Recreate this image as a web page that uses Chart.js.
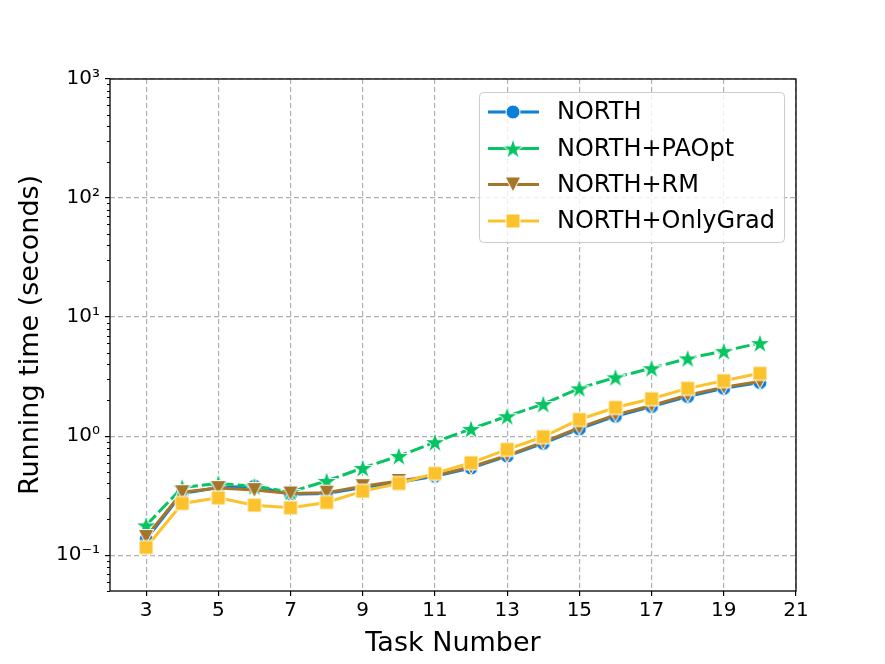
<!DOCTYPE html>
<html><head><meta charset="utf-8">
<script src="https://cdn.jsdelivr.net/npm/chart.js@4.4.1/dist/chart.umd.min.js"></script>
<style>html,body{margin:0;padding:0;background:#fff;}canvas{display:block;}</style>
</head><body>
<canvas id="c" width="885" height="664"></canvas>
<script>
// ---- data ----
const taskNumbers = [3,4,5,6,7,8,9,10,11,12,13,14,15,16,17,18,19,20];
const northTimes    = [0.136,0.33,0.37,0.38,0.325,0.33,0.37,0.41,0.46,0.54,0.68,0.87,1.15,1.47,1.77,2.15,2.52,2.82];
const paoptTimes    = [0.178,0.37,0.40,0.38,0.34,0.42,0.54,0.68,0.89,1.15,1.47,1.86,2.52,3.12,3.72,4.50,5.18,6.05];
const rmTimes       = [0.142,0.338,0.366,0.352,0.33,0.335,0.38,0.42,0.468,0.55,0.69,0.89,1.18,1.51,1.81,2.21,2.58,2.88];
const onlyGradTimes = [0.116,0.272,0.303,0.263,0.25,0.277,0.345,0.40,0.486,0.597,0.773,0.988,1.38,1.74,2.06,2.52,2.92,3.37];
const seriesNames = ['NORTH','NORTH+PAOpt','NORTH+RM','NORTH+OnlyGrad'];
const xTickValues = [3,5,7,9,11,13,15,17,19,21];
const yMajorTicks = [0.1,1,10,100,1000];
const yTickLabels = ['10\u207B\u00B9','10\u2070','10\u00B9','10\u00B2','10\u00B3'];
const xTitle = 'Task Number';
const yTitle = 'Running time (seconds)';

// ---- styles ----
const COLORS = ['#0b7fd8','#06c462','#a5762a','#fcc22c'];
const FONT = 'DejaVu Sans';

function markerCanvas(kind, color) {
  const s = 28;
  const c = document.createElement('canvas');
  c.width = s; c.height = s;
  const g = c.getContext('2d');
  g.translate(s/2, s/2);
  g.beginPath();
  if (kind === 'circle') {
    g.arc(0, 0, 7, 0, Math.PI*2);
  } else if (kind === 'square') {
    g.rect(-7, -7, 14, 14);
  } else if (kind === 'tridown') {
    g.moveTo(-7.8, -7.5); g.lineTo(7.8, -7.5); g.lineTo(0, 7.5); g.closePath();
  } else if (kind === 'star') {
    const R = 10.8, r = R*0.382;
    for (let i = 0; i < 10; i++) {
      const rad = (i % 2 === 0) ? R : r;
      const a = -Math.PI/2 + i*Math.PI/5;
      const px = rad*Math.cos(a), py = rad*Math.sin(a) + 0.9;
      if (i === 0) g.moveTo(px, py); else g.lineTo(px, py);
    }
    g.closePath();
  }
  g.fillStyle = color; g.fill();
  g.lineWidth = 1; g.strokeStyle = '#ffffff'; g.lineJoin = 'miter'; g.stroke();
  return c;
}
const markerKinds = ['circle','star','tridown','square'];
const markers = markerKinds.map((k,i) => markerCanvas(k, COLORS[i]));
const seriesValues = [northTimes, paoptTimes, rmTimes, onlyGradTimes];
const dashes = [[], [14,4], [], []];

const datasets = seriesNames.map((name, i) => ({
  label: name,
  data: taskNumbers.map((t, j) => ({x: t, y: seriesValues[i][j]})),
  borderColor: COLORS[i],
  backgroundColor: COLORS[i],
  borderWidth: 3,
  borderDash: dashes[i],
  pointStyle: markers[i],
  pointRadius: 8,
  pointHoverRadius: 8,
  tension: 0,
  order: 4 - i
}));

const isMajor = v => yMajorTicks.some(m => Math.abs(Math.log10(v) - Math.log10(m)) < 1e-6);

const decorPlugin = {
  id: 'decor',
  afterDraw(chart) {
    const ctx = chart.ctx;
    const a = chart.chartArea;
    const ys = chart.scales.y;
    ctx.save();
    // minor ticks
    ctx.strokeStyle = '#000'; ctx.lineWidth = 1;
    ys.ticks.forEach(t => {
      if (!isMajor(t.value)) {
        const py = Math.round(ys.getPixelForValue(t.value)) + 0.5;
        ctx.beginPath(); ctx.moveTo(a.left - 3, py); ctx.lineTo(a.left, py); ctx.stroke();
      }
    });
    // frame
    ctx.lineWidth = 1.3; ctx.strokeStyle = '#000';
    ctx.strokeRect(a.left, a.top, a.right - a.left, a.bottom - a.top);
    // legend
    const bx = 479.5, by = 92.5, bw = 305, bh = 150, rr = 4;
    ctx.beginPath();
    ctx.moveTo(bx+rr, by); ctx.lineTo(bx+bw-rr, by); ctx.quadraticCurveTo(bx+bw, by, bx+bw, by+rr);
    ctx.lineTo(bx+bw, by+bh-rr); ctx.quadraticCurveTo(bx+bw, by+bh, bx+bw-rr, by+bh);
    ctx.lineTo(bx+rr, by+bh); ctx.quadraticCurveTo(bx, by+bh, bx, by+bh-rr);
    ctx.lineTo(bx, by+rr); ctx.quadraticCurveTo(bx, by, bx+rr, by); ctx.closePath();
    ctx.fillStyle = 'rgba(255,255,255,0.8)'; ctx.fill();
    ctx.strokeStyle = '#cccccc'; ctx.lineWidth = 1; ctx.stroke();
    const rowY = [112, 148.5, 184.5, 221];
    chart.data.datasets.forEach((ds, i) => {
      const y = rowY[i];
      ctx.beginPath(); ctx.setLineDash([]);
      ctx.strokeStyle = ds.borderColor; ctx.lineWidth = 3;
      ctx.moveTo(488, y); ctx.lineTo(539, y); ctx.stroke();
      const m = ds.pointStyle;
      ctx.drawImage(m, 513 - m.width/2, y - m.height/2);
      ctx.fillStyle = '#000'; ctx.font = '24px "' + FONT + '"';
      ctx.textBaseline = 'middle'; ctx.textAlign = 'left';
      ctx.fillText(ds.label, 557, y + 1);
    });
    ctx.restore();
  }
};

new Chart(document.getElementById('c'), {
  type: 'line',
  data: { datasets },
  options: {
    responsive: false,
    animation: false,
    devicePixelRatio: 1,
    layout: { padding: { left: 0, right: 89, top: 79, bottom: 0 } },
    plugins: { legend: { display: false }, tooltip: { enabled: false } },
    scales: {
      x: {
        type: 'linear', min: 2, max: 21,
        afterBuildTicks: s => { s.ticks = xTickValues.map(v => ({value: v})); },
        afterFit: s => { s.height = 73; },
        ticks: { autoSkip: false, maxRotation: 0, color: '#000', padding: 3,
                 font: { family: FONT, size: 20 }, callback: v => String(v) },
        grid: { color: '#b0b0b0', lineWidth: 1.2, tickLength: 5, tickColor: '#000', tickWidth: 1.2 },
        border: { display: false, dash: [5,3] },
        title: { display: true, text: xTitle, color: '#000', font: { family: FONT, size: 27 },
                 padding: { top: 0, bottom: 4 } }
      },
      y: {
        type: 'logarithmic', min: 0.05, max: 1000,
        afterBuildTicks: s => {
          const arr = [];
          for (let d = -2; d <= 3; d++) {
            for (let k = 1; k <= 9; k++) {
              const v = k * Math.pow(10, d);
              if (v >= 0.05 - 1e-9 && v <= 1000 + 1e-6) arr.push({value: v});
            }
          }
          s.ticks = arr;
        },
        afterFit: s => { s.width = 110; },
        ticks: { autoSkip: false, color: '#000', padding: 5,
                 font: { family: FONT, size: 20 },
                 callback: v => { const i = yMajorTicks.findIndex(m => Math.abs(Math.log10(v) - Math.log10(m)) < 1e-6); return i >= 0 ? yTickLabels[i] : ''; } },
        grid: {
          color: c => (c.tick && isMajor(c.tick.value)) ? '#b0b0b0' : 'rgba(0,0,0,0)',
          tickColor: c => (c.tick && isMajor(c.tick.value)) ? '#000' : 'rgba(0,0,0,0)',
          lineWidth: 1.2, tickLength: 5, tickWidth: 1.2
        },
        border: { display: false, dash: [5,3] },
        title: { display: true, text: yTitle, color: '#000', font: { family: FONT, size: 27 },
                 padding: { top: 15, bottom: 0 } }
      }
    }
  },
  plugins: [decorPlugin]
});
</script>
</body></html>
